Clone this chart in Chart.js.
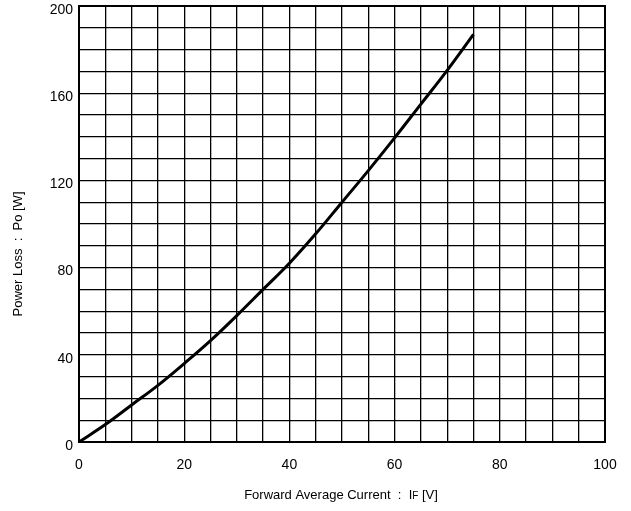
<!DOCTYPE html>
<html>
<head>
<meta charset="utf-8">
<script src="https://cdn.jsdelivr.net/npm/chart.js@4/dist/chart.umd.min.js"></script>
<style>
  html, body { margin: 0; padding: 0; background: #fff; }
  #wrap { width: 631px; height: 511px; }
</style>
</head>
<body>
<div id="wrap"><canvas id="lossChart" width="631" height="511"></canvas></div>
<script>
// forward current and power loss [W]
const currentValues = [0, 5, 10, 15, 20, 25, 30, 35, 40, 45, 50, 55, 60, 65, 70, 75];
const lossValues = [0, 8, 17, 26, 36, 46.5, 58, 70, 82, 95.5, 110, 124.5, 139.5, 155, 170.5, 187];
const xLabels = [0, 20, 40, 60, 80, 100];
const yLabels = [0, 40, 80, 120, 160, 200];

const points = currentValues.map((x, i) => ({ x: x, y: lossValues[i] }));
const FONT = '"Liberation Sans", Arial, sans-serif';

// axis titles drawn by hand: the small "F" and the offset y title
const axisTitles = {
    id: 'axisTitles',
    afterDraw(chart) {
        const c = chart.ctx;
        c.save();
        c.fillStyle = '#000';
        c.textBaseline = 'middle';

        const parts = [
            ['Forward Average Current  :  I', 13],
            ['F', 10],
            [' [V]', 13]
        ];
        let total = 0;
        parts.forEach(p => { c.font = p[1] + 'px ' + FONT; total += c.measureText(p[0]).width; });
        let x = 341 - total / 2;
        parts.forEach(p => {
            c.font = p[1] + 'px ' + FONT;
            c.textAlign = 'left';
            c.fillText(p[0], x, p[1] === 13 ? 495 : 496);
            x += c.measureText(p[0]).width;
        });

        c.translate(18, 254);
        c.rotate(-Math.PI / 2);
        c.font = '13px ' + FONT;
        c.textAlign = 'center';
        c.fillText('Power Loss  :  Po [W]', 0, 0);
        c.restore();
    }
};

const frame = {
    id: 'frame',
    afterDraw(chart) {
        const a = chart.chartArea, c = chart.ctx;
        c.save();
        c.strokeStyle = '#000';
        c.lineWidth = 2;
        c.strokeRect(a.left, a.top, a.right - a.left, a.bottom - a.top);
        c.restore();
    }
};

new Chart(document.getElementById('lossChart'), {
    type: 'line',
    data: {
        datasets: [{
            data: points,
            borderColor: '#000',
            borderWidth: 3,
            pointRadius: 0,
            fill: false,
            tension: 0.4
        }]
    },
    options: {
        responsive: false,
        animation: false,
        layout: { padding: { top: 6, right: 26, left: 8, bottom: 8 } },
        plugins: { legend: { display: false }, tooltip: { enabled: false } },
        scales: {
            x: {
                type: 'linear',
                min: 0, max: 100,
                ticks: {
                    stepSize: 5,
                    color: '#000',
                    font: { family: FONT, size: 14 },
                    maxRotation: 0,
                    autoSkip: false,
                    padding: 15,
                    callback: v => xLabels.includes(v) ? v : ''
                },
                grid: { color: '#000', lineWidth: 1.3, drawTicks: false },
                border: { color: '#000', width: 2 },
                afterFit: s => { s.height = 61; s.paddingLeft = 0; s.paddingRight = 0; }
            },
            y: {
                min: 0, max: 200,
                ticks: {
                    stepSize: 10,
                    color: '#000',
                    font: { family: FONT, size: 14 },
                    autoSkip: false,
                    padding: 6,
                    labelOffset: 4,
                    callback: v => yLabels.includes(v) ? v : ''
                },
                grid: { color: '#000', lineWidth: 1.3, drawTicks: false },
                border: { color: '#000', width: 2 },
                afterFit: s => { s.width = 71; s.paddingTop = 0; s.paddingBottom = 0; }
            }
        }
    },
    plugins: [frame, axisTitles]
});
</script>
</body>
</html>
